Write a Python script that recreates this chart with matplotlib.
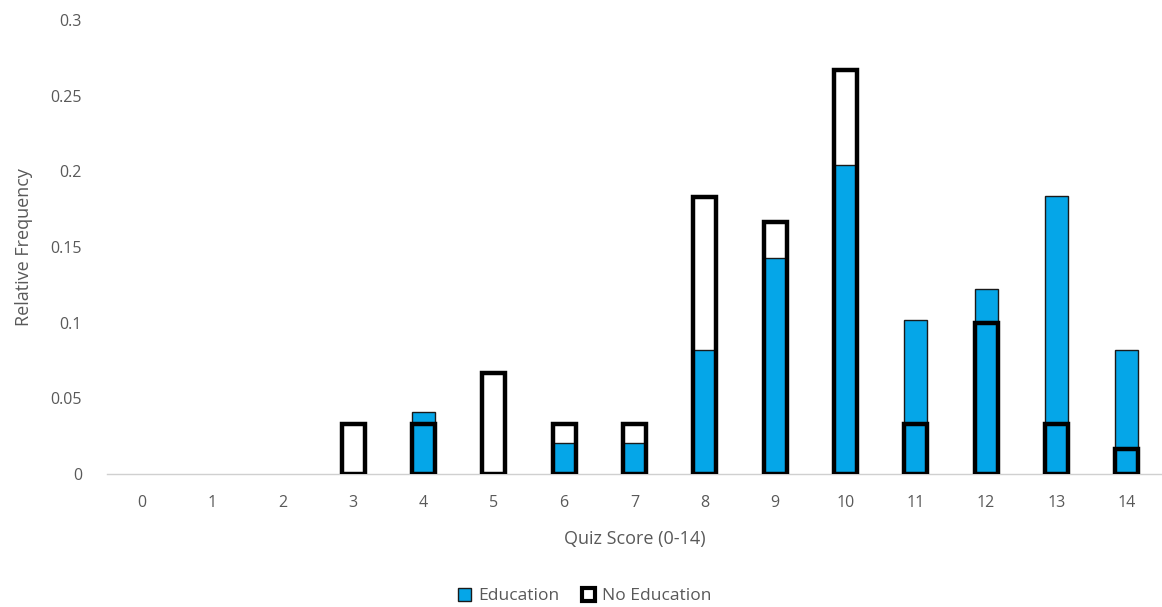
import matplotlib.pyplot as plt
from matplotlib.patches import Patch

plt.rcParams['font.family'] = ['Open Sans', 'DejaVu Sans']

# quiz scores and relative frequencies per group
scores = list(range(15))
education = [0, 0, 0, 0, 2/49, 0, 1/49, 1/49, 4/49, 7/49, 10/49, 5/49, 6/49, 9/49, 4/49]
no_education = [0, 0, 0, 2/60, 2/60, 4/60, 2/60, 2/60, 11/60, 10/60, 16/60, 2/60, 6/60, 2/60, 1/60]

blue = '#05A6E8'
text_col = '#595959'

def hide_zero(vals):
    # empty scores get no outline at all
    return [v if v > 0 else float('nan') for v in vals]

fig = plt.figure(figsize=(11.62, 6.07), dpi=100)
ax = fig.add_axes([107/1162, 1 - 474/607, (1162 - 107)/1162, (474 - 20)/607])

ax.bar(scores, hide_zero(education), width=0.33, color=blue, edgecolor='#1a1a1a',
       linewidth=1.0, zorder=2)
ax.bar(scores, hide_zero(no_education), width=0.33,
       facecolor='none', edgecolor='black', linewidth=3.2, zorder=3)

ax.set_xlim(-0.5, 14.5)
ax.set_ylim(0, 0.3)
ax.set_xticks(scores)
ax.set_yticks([0, 0.05, 0.1, 0.15, 0.2, 0.25, 0.3])
ax.set_yticklabels(['0', '0.05', '0.1', '0.15', '0.2', '0.25', '0.3'])
ax.tick_params(length=0, labelsize=11.5, colors=text_col)
ax.tick_params(axis='x', pad=15)
ax.tick_params(axis='y', pad=18)

for s in ['top', 'right', 'left']:
    ax.spines[s].set_visible(False)
ax.spines['bottom'].set_color('#d0d0d0')
ax.spines['bottom'].set_linewidth(1.0)

ax.set_xlabel('Quiz Score (0-14)', fontsize=13, color=text_col)
ax.xaxis.set_label_coords(0.5, -(530 - 474) / 454)
ax.set_ylabel('Relative Frequency', fontsize=13, color=text_col)
ax.yaxis.set_label_coords(-(107 - 33) / 1055, 0.5)

handles = [Patch(facecolor=blue, edgecolor='#1a1a1a', linewidth=1.0, label='Education'),
           Patch(facecolor='white', edgecolor='black', linewidth=3, label='No Education')]
fig.legend(handles=handles, loc='center', bbox_to_anchor=(0.503, 1 - 596/607), ncol=2,
           frameon=False, fontsize=12.5, labelcolor=text_col, handlelength=0.75,
           handleheight=0.75, handletextpad=0.4, columnspacing=1.3)

fig.savefig('out.png', dpi=100)
